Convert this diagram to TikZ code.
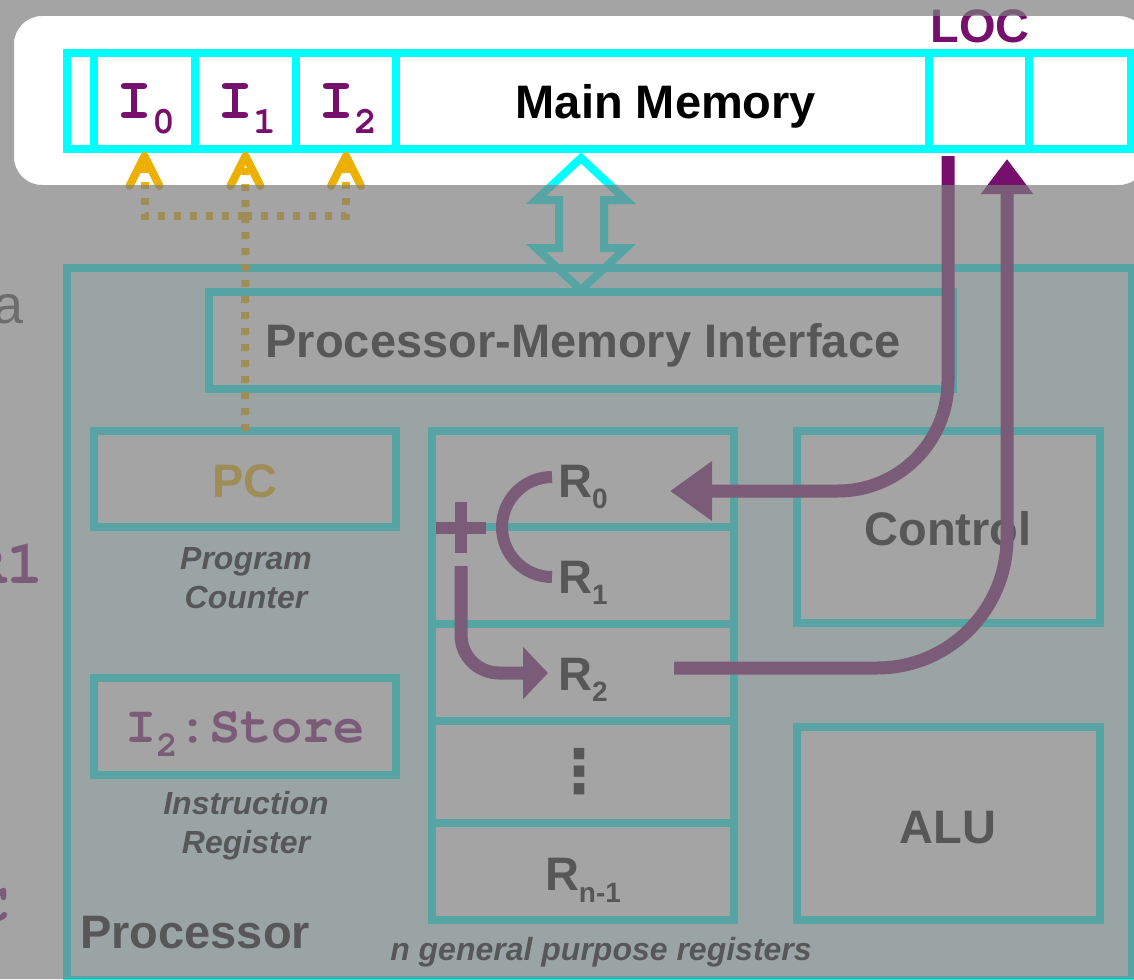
\documentclass[tikz,border=0pt]{standalone}
\usepackage{fontspec}
\setmainfont{Liberation Sans}
\newfontfamily\codefont{texgyrecursor-bold.otf}
\newfontfamily\symfont{DejaVu Sans}
\usetikzlibrary{arrows.meta}

\definecolor{memcyan}{HTML}{00FFFF}
\definecolor{procfill}{HTML}{E0FFFF}
\definecolor{plum}{HTML}{770F6C}
\definecolor{gold}{HTML}{EBB000}
\definecolor{dimgray}{HTML}{7E7E7E}
\definecolor{ghost}{HTML}{494949}

% lowered subscript: size, drop, text
\newcommand\lowsub[3]{\raisebox{-#2pt}{\fontsize{#1}{#1}\selectfont #3}}

\begin{document}
\begin{tikzpicture}[x=1pt, y=-1pt,
  unit/.style={draw=memcyan, line width=8pt, fill=white, inner sep=0pt, outer sep=0pt},
  cell/.style={unit, minimum height=96pt},
  bigtxt/.style={font=\bfseries\fontsize{47}{47}\selectfont, text=black, anchor=base, inner sep=0pt},
  subtxt/.style={font=\bfseries\fontsize{47}{47}\selectfont, text=black, anchor=base, inner sep=0pt},
  captxt/.style={font=\bfseries\itshape\fontsize{32}{39}\selectfont, text=black, inner sep=0pt, align=center},
  codetxt/.style={font=\codefont\fontsize{60}{60}\selectfont, text=plum, anchor=base, inner sep=0pt},
  purpleconn/.style={draw=plum, line width=13pt},
  thinconn/.style={draw=plum, line width=12pt},
  goldconn/.style={draw=gold, line width=8pt, dash pattern=on 7pt off 9pt,
    -{Straight Barb[length=30pt,width=30pt,line width=8pt,round]}},
  memline/.style={draw=memcyan, line width=8pt, line join=miter},
  dimmer/.style={fill=dimgray, fill opacity=0.698, even odd rule},
]
\useasboundingbox (0,0) rectangle (1134,979);
\clip (0,0) rectangle (1134,979);
\fill[white] (0,0) rectangle (1134,979);

% text of the slide underneath, cut by the left edge
\node[font=\fontsize{54}{54}\selectfont, text=ghost, anchor=base east, inner sep=0pt] (frag-a) at (24,323) {a};
\node[font=\codefont\fontsize{62}{62}\selectfont, text=plum, anchor=base east, inner sep=0pt] (frag-r) at (44,583) {R1};
\node[font=\codefont\fontsize{57}{57}\selectfont, text=plum, anchor=base east, inner sep=0pt] (frag-c) at (10,921) {C};

% main memory strip
\node[cell, minimum width=27pt]  (m0)  at (80.5,101) {};
\node[cell, minimum width=101pt] (i0)  at (144.5,101) {};
\node[cell, minimum width=101pt] (i1)  at (245.5,101) {};
\node[cell, minimum width=100pt] (i2)  at (346,101) {};
\node[cell, minimum width=533pt] (mm)  at (662.5,101) {};
\node[cell, minimum width=100pt] (loc) at (979,101) {};
\node[cell, minimum width=102pt] (m6)  at (1080,101) {};
\node[codetxt] (i0t) at (146,118) {I\lowsub{38}{15}{0}};
\node[codetxt] (i1t) at (247,118) {I\lowsub{38}{15}{1}};
\node[codetxt] (i2t) at (348,118) {I\lowsub{38}{15}{2}};
\node[bigtxt] (mmt) at (666,119) {Main Memory};
\node[bigtxt, text=plum] (loct) at (980,43) {LOC};

% processor
\node[unit, fill=procfill, minimum width=1065pt, minimum height=712pt] (proc) at (599.5,624) {};
\node[unit, minimum width=744pt, minimum height=97pt] (pmi) at (581,340.5) {};
\node[bigtxt] (pmit) at (583,357) {Processor-Memory Interface};

\node[unit, minimum width=302pt, minimum height=96pt] (pc) at (245,479) {};
\node[bigtxt, text=gold] (pct) at (245,497) {PC};
\node[captxt] (pccap) at (246,578) {Program\\Counter};

\node[unit, minimum width=302pt, minimum height=97pt] (ir) at (245,726.5) {};
\node[codetxt, font=\codefont\fontsize{52}{52}\selectfont] (irt) at (245,742) {I\lowsub{36}{14}{2}:Store};
\node[captxt] (ircap) at (246,826) {Instruction\\Register};

% register file
\node[unit, minimum width=302pt, minimum height=96pt]  (r0) at (583,479) {};
\node[unit, minimum width=302pt, minimum height=97pt]  (r1) at (583,575.5) {};
\node[unit, minimum width=302pt, minimum height=97pt]  (r2) at (583,672.5) {};
\node[unit, minimum width=302pt, minimum height=102pt] (r3) at (583,772) {};
\node[unit, minimum width=302pt, minimum height=97pt]  (r4) at (583,871.5) {};
\node[subtxt] (r0t) at (583,497) {R\lowsub{28}{11}{0}};
\node[subtxt] (r1t) at (583,593) {R\lowsub{28}{11}{1}};
\node[subtxt] (r2t) at (583,690) {R\lowsub{28}{11}{2}};
\node[font=\symfont\bfseries\fontsize{60}{60}\selectfont, text=black, inner sep=0pt] (r3t) at (579,772) {⋮};
\node[subtxt] (r4t) at (583,890) {R\lowsub{28}{12}{n-1}};
\node[captxt, anchor=base] (regcap) at (601,960) {n general purpose registers};

\node[unit, minimum width=303pt, minimum height=192pt] (ctl) at (948.5,527) {};
\node[bigtxt] (ctlt) at (948,545) {Control};
\node[unit, minimum width=303pt, minimum height=193pt] (alu) at (948.5,823.5) {};
\node[bigtxt] (alut) at (948,843) {ALU};

\node[bigtxt, anchor=base west] (proct) at (80,948) {Processor};

% program counter addresses the instructions
\coordinate (split) at (245,216);
\draw[goldconn] (pc.north) -- ([shift={(0,3)}]i1.south);
\draw[goldconn] (split) -| ([shift={(0,3)}]i0.south);
\draw[goldconn] (split) -| ([shift={(0,3)}]i2.south);

% memory bus
\draw[memline] (581,158) -- (626,200) -- (604,200) -- (604,248) -- (626,248)
  -- (581,290) -- (536,248) -- (559,248) -- (559,200) -- (536,200) -- cycle;

% data paths
\coordinate (r0in) at (670,491);
\coordinate (r2out) at (674,668);
\coordinate (r2in) at (548,673);
\coordinate (addtop) at (552,477);
\coordinate (addout) at (461,566);
\draw[purpleconn, -{Triangle[length=42pt,width=57pt]}, rounded corners=110pt]
  ([shift={(-31,7)}]loc.south) |- (r0in);
\draw[purpleconn, -{Triangle[length=35pt,width=50pt]}, rounded corners=130pt]
  (r2out) -| ([shift={(28,10)}]loc.south);
\draw[thinconn] (addtop) arc[start angle=-90, end angle=-270, radius=50];
\draw[thinconn] (436,528) -- (486,528);
\draw[thinconn] (461,502) -- (461,553);
\draw[purpleconn, -{Triangle[length=25pt,width=51pt]}, rounded corners=38pt]
  (addout) |- (r2in);

% everything outside the memory strip is dimmed
\fill[dimmer] (0,0) rectangle (1134,979) [rounded corners=28pt] (14,16) rectangle (1147,185);
\end{tikzpicture}
\end{document}
